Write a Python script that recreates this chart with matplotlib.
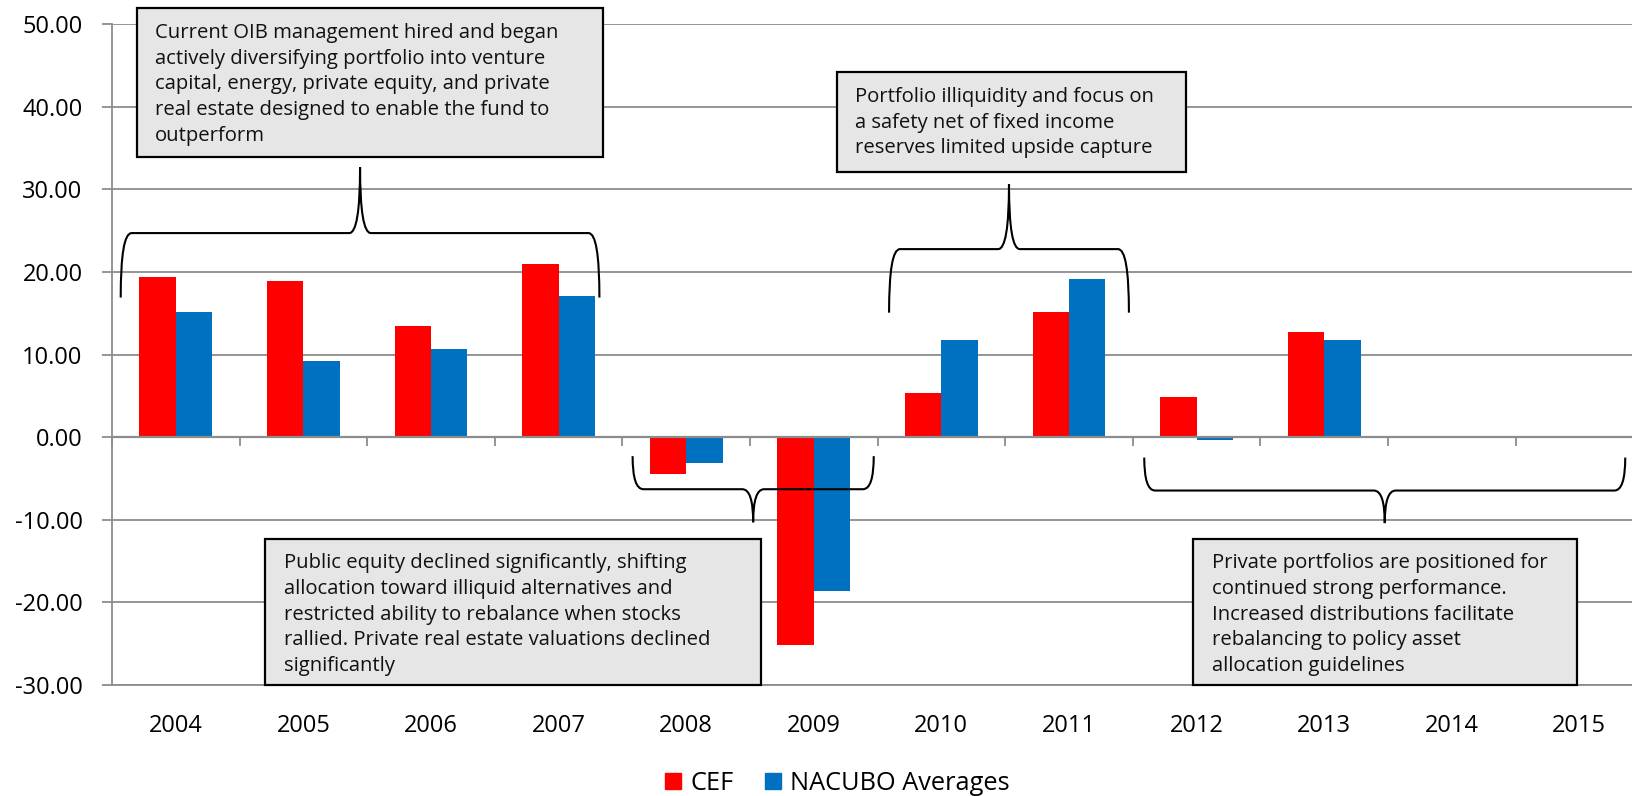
import numpy as np
import matplotlib
matplotlib.use('Agg')
import matplotlib.pyplot as plt
from matplotlib.path import Path
from matplotlib.patches import PathPatch, Rectangle, Patch

plt.rcParams['font.family'] = ['Open Sans', 'DejaVu Sans']

years = ['2004', '2005', '2006', '2007', '2008', '2009', '2010', '2011',
         '2012', '2013', '2014', '2015']
cef = [19.4, 18.9, 13.5, 21.0, -4.4, -25.2, 5.4, 15.1, 4.9, 12.7, np.nan, np.nan]
nacubo = [15.2, 9.2, 10.7, 17.1, -3.1, -18.6, 11.8, 19.1, -0.35, 11.7, np.nan, np.nan]

notes = [
    'Current OIB management hired and began\nactively diversifying portfolio into venture\n'
    'capital, energy, private equity, and private\nreal estate designed to enable the fund to\noutperform',
    'Portfolio illiquidity and focus on\na safety net of fixed income\nreserves limited upside capture',
    'Public equity declined significantly, shifting\nallocation toward illiquid alternatives and\n'
    'restricted ability to rebalance when stocks\nrallied. Private real estate valuations declined\nsignificantly',
    'Private portfolios are positioned for\ncontinued strong performance.\nIncreased distributions facilitate\n'
    'rebalancing to policy asset\nallocation guidelines',
]

# box extents (x0, x1, y_bottom, y_top) in data units
note_boxes = [(-0.306, 3.35, 33.9, 51.9), (5.18, 7.92, 32.1, 44.15),
              (0.70, 4.59, -30.0, -12.3), (7.976, 10.98, -30.0, -12.3)]
# braces (x0, x1, y_mid, y_end, y_tip)
braces = [(-0.432, 3.32, 24.7, 16.9, 32.65), (5.59, 7.47, 22.76, 15.07, 30.6),
          (3.58, 5.47, -6.3, -2.3, -10.3), (7.59, 11.36, -6.46, -2.47, -10.4)]

RED = '#FF0000'
BLUE = '#0070C0'
GRID = '#8C8C8C'


def draw_brace(ax, x0, x1, y_mid, y_end, y_tip, dx=0.085):
    xm = (x0 + x1) / 2
    verts = [(x0, y_end), (x0, y_mid), (x0 + dx, y_mid),
             (xm - dx, y_mid), (xm, y_mid), (xm, y_tip),
             (xm, y_mid), (xm + dx, y_mid),
             (x1 - dx, y_mid), (x1, y_mid), (x1, y_end)]
    codes = [Path.MOVETO, Path.CURVE3, Path.CURVE3, Path.LINETO,
             Path.CURVE3, Path.CURVE3, Path.CURVE3, Path.CURVE3,
             Path.LINETO, Path.CURVE3, Path.CURVE3]
    ax.add_patch(PathPatch(Path(verts, codes), fill=False, lw=1.5,
                           edgecolor='black', zorder=5, clip_on=False))


fig = plt.figure(figsize=(16.33, 7.96), dpi=100)
# plot area runs a little past the right edge, as in the original
ax = fig.add_axes([0.0686, 0.1394, 0.9376, 0.8304])

x = np.arange(len(years))
w = 0.285
ax.bar(x - w / 2, cef, w, color=RED, zorder=3, label='CEF')
ax.bar(x + w / 2, nacubo, w, color=BLUE, zorder=3, label='NACUBO Averages')

ax.set_xlim(-0.5, len(years) - 0.5)
ax.set_ylim(-30, 50)
ax.set_yticks(np.arange(-30, 51, 10))
ax.set_yticklabels([f'{v:.2f}' for v in np.arange(-30, 51, 10)])
ax.yaxis.grid(True, color=GRID, lw=1.3, zorder=0)
ax.set_axisbelow(True)
for s in ['top', 'right']:
    ax.spines[s].set_visible(False)
for s in ['left', 'bottom']:
    ax.spines[s].set_color(GRID)
    ax.spines[s].set_linewidth(1.3)
ax.tick_params(axis='y', labelsize=17, color=GRID, length=7.2, width=1.3, pad=14)
ax.set_xticks(x)
ax.set_xticklabels(years)
ax.tick_params(axis='x', labelsize=17, length=0, pad=21)

# category axis crossing at zero
ax.axhline(0, color=GRID, lw=1.6, zorder=4)
zero_ax = ax.secondary_xaxis(30 / 80)
zero_ax.set_xticks(np.arange(-0.5, len(years), 1.0))
zero_ax.set_xticklabels([])
zero_ax.tick_params(length=6.5, width=1.3, color=GRID, direction='out')
zero_ax.spines['bottom'].set_visible(False)
zero_ax.spines['top'].set_visible(False)

for (x0, x1, yb, yt), txt in zip(note_boxes, notes):
    ax.add_patch(Rectangle((x0, yb), x1 - x0, yt - yb, facecolor='#E6E6E6',
                           edgecolor='black', lw=1.6, zorder=6, clip_on=False))
    ax.annotate(txt, xy=(x0, yt), xytext=(18.5, -14.6), textcoords='offset pixels',
                ha='left', va='top', fontsize=14.6, linespacing=1.38,
                color='#111111', zorder=7, annotation_clip=False)

for b in braces:
    draw_brace(ax, *b)

handles = [Patch(color=RED, label='CEF'), Patch(color=BLUE, label='NACUBO Averages')]
fig.legend(handles=handles, loc='center', bbox_to_anchor=(0.5129, 0.016),
           ncol=2, frameon=False, fontsize=18.3, handlelength=0.63, handleheight=0.63,
           handletextpad=0.35, columnspacing=1.26, borderpad=0.2)

fig.savefig('out.png', dpi=100)
